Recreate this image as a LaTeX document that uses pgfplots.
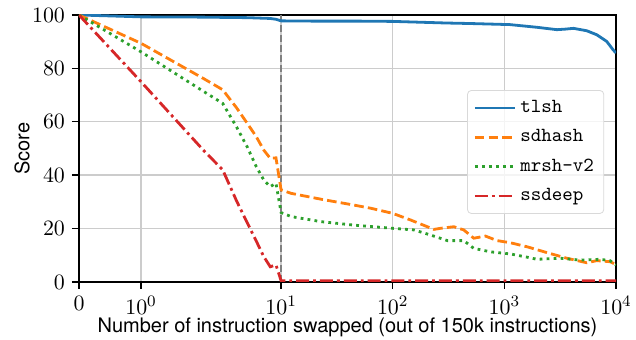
\documentclass[border=0pt]{standalone}
\usepackage{fontspec}
\newfontfamily\helv{TeX Gyre Heros}
\usepackage{pgfplots}
\pgfplotsset{compat=1.18}
\definecolor{tabblue}{HTML}{1F77B4}
\definecolor{taborange}{HTML}{FF7F0E}
\definecolor{tabgreen}{HTML}{2CA02C}
\definecolor{tabred}{HTML}{D62728}
\begin{document}
\begin{tikzpicture}
\useasboundingbox (-39.5pt,-29pt) rectangle (278.5pt,141pt);
\begin{axis}[
  at={(0,0)}, anchor=south west,
  scale only axis, width=268.5pt, height=133.5pt,
  x coord trafo/.code={\begingroup\pgfkeys{/pgf/fpu=true}\pgfmathparse{1.1111*min(#1,2)+2*log10(max(#1,2)/2)}\pgfmathfloattofixed{\pgfmathresult}\xdef\symlogres{\pgfmathresult}\endgroup\let\pgfmathresult\symlogres},
  xmin=0, xmax=10000, ymin=0, ymax=100,
  axis line style={black, line width=0.7pt},
  tick style={black, line width=0.7pt},
  major tick length=3.5pt,
  tick align=outside,
  tick pos=left,
  grid=major, grid style={gray!40, line width=0.7pt},
  xtick={0,1,10,100,1000,10000},
  xticklabels={$0$,$10^0$,$10^1$,$10^2$,$10^3$,$10^4$},
  ytick={0,20,40,60,80,100},
  tick label style={font=\fontsize{11}{13}\selectfont},
  xlabel={Number of instruction swapped (out of 150k instructions)},
  ylabel={Score},
  label style={font=\helv\fontsize{10}{12}\selectfont},
  xlabel style={at={(axis description cs:0.5,-0.169)}, anchor=center},
  ylabel style={at={(axis description cs:-0.106,0.5)}, anchor=center},
  legend style={at={(axis description cs:0.978,0.719)}, anchor=north east,
    draw=gray!30, rounded corners=2pt, fill=white, fill opacity=0.8, text opacity=1,
    font=\ttfamily\fontsize{10}{12}\selectfont, row sep=3pt, inner sep=3pt},
  legend cell align=left,
  legend image code/.code={\draw[#1] plot coordinates {(0pt,0pt) (20pt,0pt)};},
]
\addplot[gray, line width=1pt, dash pattern=on 3.5pt off 1.5pt, forget plot] coordinates {(10,0) (10,100)};
\addplot[tabblue, line width=1.4pt] coordinates {
(0,100) (1,99.3) (2,99.2) (3,99.1) (5,99.0) (8,98.7) (9,98.4) (10,97.8) (20,97.7) (50,97.7) (100,97.6)
(300,97.0) (500,96.8) (1120,96.4) (1951,95.4) (2958,94.5) (3500,94.7) (4159,95.0) (5470,94.1)
(6723,92.6) (8260,90.1) (9400,87.0) (10000,85.8)};
\addlegendentry{tlsh}
\addplot[taborange, line width=1.4pt, dash pattern=on 4.8pt off 2.1pt] coordinates {
(0,100) (1,89.4) (2,76.3) (3,72) (4,65.2) (5,59.3) (6,54.4) (7,49.4) (8,46.3) (9,46.5) (10,34.5)
(12.3,33.2) (22.8,31.0) (45,28.8) (64,27.6) (100,25.7) (145,23.2) (234,19.7) (268,20.1) (353,20.7)
(433,19.5) (532,16.4) (677,17.2) (861,15.5) (1132,14.7) (1596,13.2) (2406,11.0) (3628,8.9)
(5470,7.2) (6723,8.0) (8840,7.6) (10000,6.5)};
\addlegendentry{sdhash}
\addplot[tabgreen, line width=1.4pt, dash pattern=on 1.4pt off 2.1pt] coordinates {
(0,100) (1,86.2) (2,71.5) (3,66.9) (4,58) (5,50.4) (6,43.2) (7,38.2) (8,35.7) (9,37.0) (10,26.0)
(12.3,24.5) (22.8,22.6) (45,21.3) (100,20.1) (155,19.5) (218,17.6) (308,15.5) (433,15.5) (532,12.6)
(750,11.3) (1132,10.5) (1596,9.3) (1959,8.5) (3162,8.9) (4774,8.2) (7197,8.5) (8840,8.0) (10000,6.4)};
\addlegendentry{mrsh-v2}
\addplot[tabred, line width=1.4pt, dash pattern=on 6.5pt off 2pt on 1.4pt off 2pt] coordinates {
(0,100) (1,75) (2,49.5) (3,42) (4,30.3) (5,22) (6,15.3) (7,9.5) (8,5.7) (9,6.4) (10,0.5) (100,0.5) (10000,0.5)};
\addlegendentry{ssdeep}
\end{axis}
\end{tikzpicture}
\end{document}
